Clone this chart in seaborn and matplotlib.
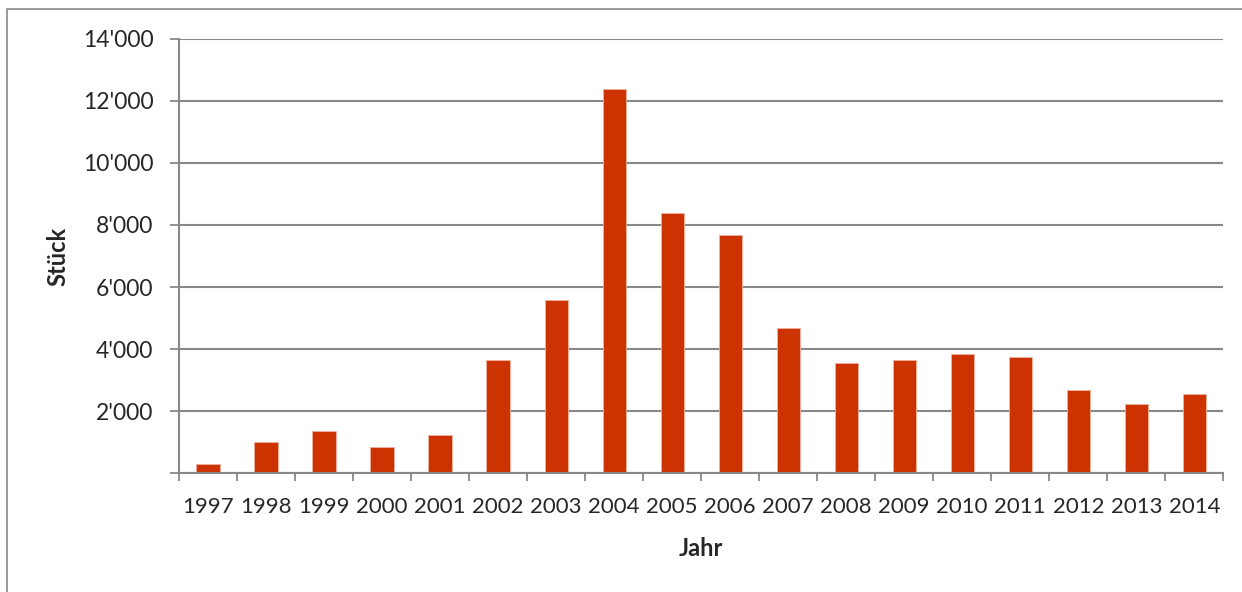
"""
Bar chart: Stück pro Jahr 1997-2014
"""

import matplotlib
matplotlib.use("Agg")
import matplotlib.pyplot as plt
import matplotlib.ticker as mticker
from matplotlib.lines import Line2D
import seaborn as sns

# Data
years = ["1997", "1998", "1999", "2000", "2001", "2002", "2003", "2004", "2005",
         "2006", "2007", "2008", "2009", "2010", "2011", "2012", "2013", "2014"]
counts = [300, 1000, 1355, 840, 1225, 3660, 5580, 12370, 8400,
          7670, 4680, 3560, 3655, 3850, 3745, 2690, 2240, 2560]
y_ticks = [0, 2000, 4000, 6000, 8000, 10000, 12000, 14000]

BAR_COLOR = "#CC3300"
GRID_COLOR = "#888888"

sns.set_style("white")
plt.rcParams["font.family"] = ["Lato", "DejaVu Sans"]

fig = plt.figure(figsize=(12.42, 5.92), dpi=100)
ax = fig.add_axes([179 / 1242, 1 - 473.3 / 592, (1223.3 - 179) / 1242, (473.3 - 38.7) / 592])

sns.barplot(x=years, y=counts, color=BAR_COLOR, width=0.4, saturation=1,
            edgecolor="#F0B0A0", linewidth=0.6, ax=ax)

ax.set_xlim(-0.5, len(years) - 0.5)
ax.set_ylim(0, 14000)

# y axis: thousands with apostrophe, no label at zero
ax.set_yticks(y_ticks)
ax.yaxis.set_major_formatter(mticker.FuncFormatter(
    lambda v, p: "" if v == 0 else f"{int(v):,}".replace(",", "'")))
ax.yaxis.grid(True, color=GRID_COLOR, linewidth=1.5)
ax.set_axisbelow(True)
ax.tick_params(axis="y", which="major", left=True, length=6.5, width=1.3,
               color=GRID_COLOR, pad=12, labelsize=16.5)

# x axis: labels centred, tick marks between categories
ax.tick_params(axis="x", which="major", length=0, pad=17, labelsize=16)
ax.set_xticks([i - 0.5 for i in range(len(years) + 1)], minor=True)
ax.tick_params(axis="x", which="minor", bottom=True, length=6, width=1.3,
               color=GRID_COLOR)

for side in ["top", "right"]:
    ax.spines[side].set_visible(False)
for side in ["left", "bottom"]:
    ax.spines[side].set_color(GRID_COLOR)
    ax.spines[side].set_linewidth(1.5)

ax.set_xlabel("Jahr", fontsize=17, fontweight="bold", va="center")
ax.xaxis.set_label_coords(0.5, -0.174)
ax.set_ylabel("Stück", fontsize=17, fontweight="bold", va="center")
ax.yaxis.set_label_coords(-0.116, 0.5)

# outer chart frame (only left and top edges visible in the crop)
frame_x = 7 / 1242
frame_y = 1 - 9 / 592
fig.add_artist(Line2D([frame_x, frame_x, 1.0], [0.0, frame_y, frame_y],
                      transform=fig.transFigure, color="#868686", linewidth=1.2))

plt.savefig("out.png", dpi=100)
